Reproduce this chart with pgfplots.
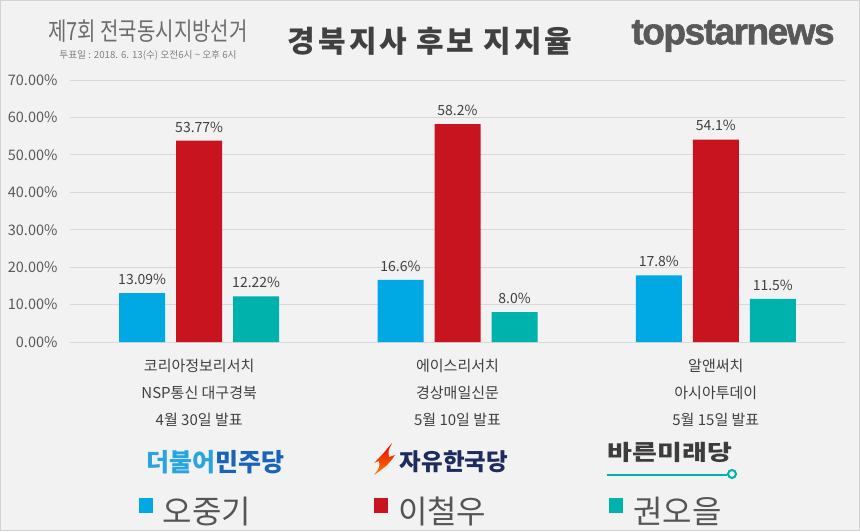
\documentclass[border=0pt]{standalone}
\usepackage{fontspec}
\usepackage{pgfplots}
\usepackage{pgfplotstable}
\pgfplotsset{compat=1.18}
\setmainfont{Noto Sans CJK KR}
\newfontfamily\kr{Noto Sans CJK KR}
\newfontfamily\krsp[LetterSpace=10]{Noto Sans CJK KR}
\newfontfamily\logofont[FakeBold=1.6]{Liberation Sans}
\definecolor{bgc}{RGB}{242,242,242}
\definecolor{bluec}{RGB}{0,168,228}
\definecolor{redc}{RGB}{200,20,30}
\definecolor{tealc}{RGB}{0,178,172}
\definecolor{gridc}{RGB}{217,217,217}
\definecolor{tickc}{RGB}{89,89,89}
\definecolor{txtc}{RGB}{64,64,64}
\definecolor{legc}{RGB}{85,85,85}
\definecolor{minjuA}{RGB}{40,165,225}
\definecolor{minjuB}{RGB}{25,100,185}
\definecolor{navyc}{RGB}{30,43,92}
\definecolor{barunc}{RGB}{60,60,60}
\pgfplotstableread{
x y lab
0 13.09 13.09
1 16.6 16.6
2 17.8 17.8
}\tblA
\pgfplotstableread{
x y lab
0 53.77 53.77
1 58.2 58.2
2 54.1 54.1
}\tblB
\pgfplotstableread{
x y lab
0 12.22 12.22
1 8.0 8.0
2 11.5 11.5
}\tblC
\pgfplotsset{sqlegend/.style={legend image code/.code={\fill[##1] (0pt,-2pt) rectangle (14pt,13pt); \path (22pt,0pt);}}}
\begin{document}
\begin{tikzpicture}
\fill[bgc] (0pt,0pt) rectangle (860pt,531pt);
\draw[gray!35, line width=1pt] (0.5pt,0.5pt) rectangle (859.5pt,530.5pt);
\begin{axis}[
  at={(70pt,189pt)}, anchor=south west,
  scale only axis, width=775pt, height=262pt,
  xmin=-0.5, xmax=2.5, ymin=0, ymax=70,
  ybar=11pt, bar width=46pt,
  axis line style={draw=none}, tick style={draw=none},
  xtick={0,1,2},
  xticklabels={{코리아정보리서치\\NSP통신 대구경북\\4월 30일 발표},{에이스리서치\\경상매일신문\\5월 10일 발표},{알앤써치\\아시아투데이\\5월 15일 발표}},
  xticklabel style={align=center, font=\fontsize{15}{27}\selectfont, text=txtc, yshift=-9pt},
  ytick={0,10,...,70},
  yticklabel={\pgfmathprintnumber[fixed,fixed zerofill,precision=2,assume math mode=true]{\tick}\%},
  yticklabel style={font=\fontsize{14.5}{16}\selectfont, text=tickc, xshift=-9pt},
  ymajorgrids, grid style={draw=gridc, line width=0.9pt},
  point meta=explicit symbolic,
  nodes near coords={\pgfplotspointmeta\%},
  every node near coord/.append style={font=\fontsize{14}{16}\selectfont, text=txtc, yshift=5pt},
  legend style={at={(0.0845,-0.645)}, anchor=west, draw=none, fill=none,
    legend columns=3, font=\fontsize{32}{36}\selectfont, text=legc,
    /tikz/every even column/.append style={column sep=121pt}},
]
\addplot[fill=bluec, draw=none, sqlegend] table[x=x, y=y, meta=lab] {\tblA};
\addlegendentry{오중기}
\addplot[fill=redc, draw=none, sqlegend] table[x=x, y=y, meta=lab] {\tblB};
\addlegendentry{이철우}
\addplot[fill=tealc, draw=none, sqlegend] table[x=x, y=y, meta=lab] {\tblC};
\addlegendentry{권오을}
\end{axis}
% header
\node[text=gray!85!black, font=\fontsize{25}{27}\selectfont] at (148pt,500pt) {\scalebox{0.8}[1]{제7회 전국동시지방선거}};
\node[text=gray, font=\fontsize{9.7}{10}\selectfont] at (148pt,476pt) {투표일 : 2018. 6. 13(수) 오전6시 \textasciitilde{} 오후 6시};
\node[text=txtc, font=\fontsize{30}{32}\selectfont\bfseries\krsp] at (430pt,490pt) {경북지사\hspace{9pt}후보\hspace{9pt}지지율};
\node[text=gray!70!black, font=\fontsize{37}{40}\selectfont\bfseries\logofont] at (733pt,495pt) {\addfontfeatures{LetterSpace=-4}topstarnews};
% party logos
\node[font=\fontsize{25}{27}\selectfont\bfseries] at (215pt,69pt) {\textcolor{minjuA}{더불어}\textcolor{minjuB}{민주당}};
\shade[top color=red!90!black, bottom color=orange] (374pt,56pt) .. controls (380pt,64pt) .. (379pt,70pt) -- (374pt,68pt) .. controls (382pt,76pt) .. (392pt,88pt) .. controls (388pt,80pt) .. (389pt,74pt) -- (395pt,76pt) .. controls (388pt,66pt) .. (374pt,56pt) -- cycle;
\node[font=\fontsize{23.5}{26}\selectfont\bfseries, text=navyc] at (454pt,69pt) {자유한국당};
\node[font=\fontsize{27}{29}\selectfont\bfseries, text=barunc] at (670pt,79pt) {\scalebox{1}[0.8]{바른미래당}};
\draw[tealc, line width=2.5pt] (607pt,56pt) -- (727pt,56pt);
\draw[tealc, line width=2pt] (732pt,57pt) circle (4pt);
\pgfresetboundingbox
\path[use as bounding box] (0pt,0pt) rectangle (860pt,531pt);
\end{tikzpicture}
\end{document}
